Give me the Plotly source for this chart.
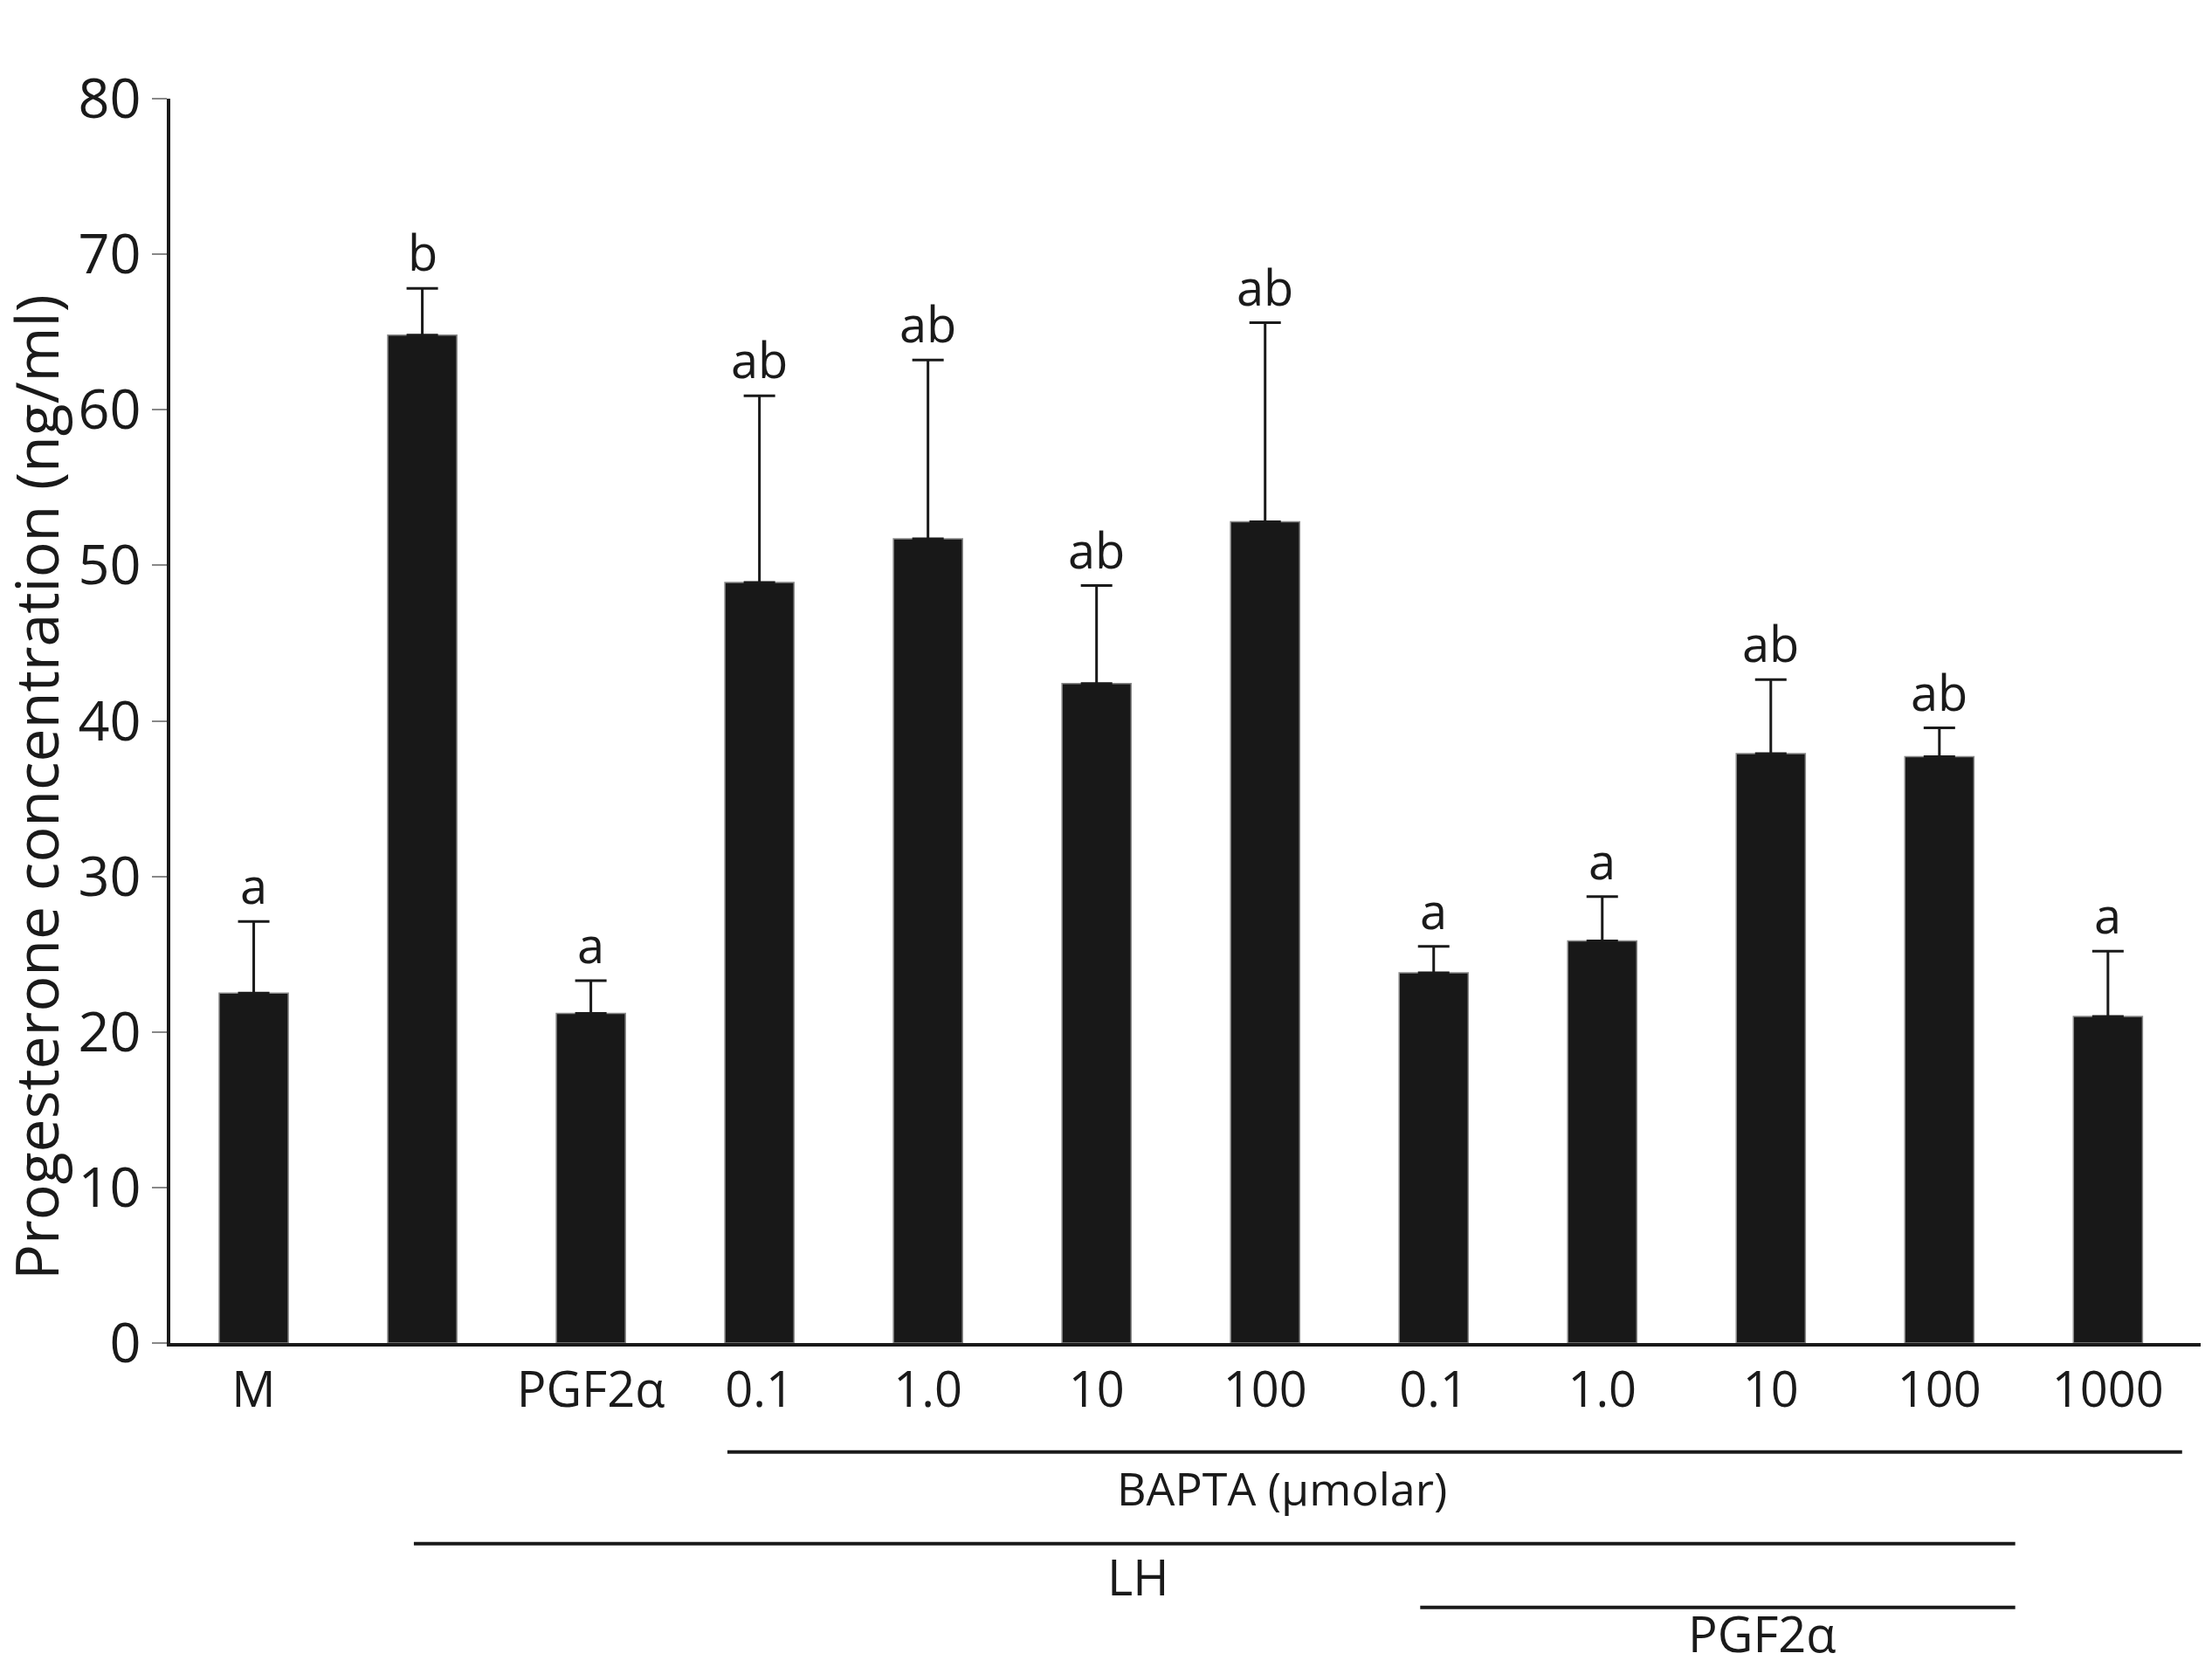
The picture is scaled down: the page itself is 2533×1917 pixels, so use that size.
import plotly.graph_objects as go

# Treatments along the x axis (the LH-only bar has no label of its own)
tick_labels = ["M", "", "PGF2α", "0.1", "1.0", "10", "100", "0.1", "1.0", "10", "100", "1000"]

# Mean progesterone (ng/ml) and upper SEM for each bar
means = [22.5, 64.8, 21.2, 48.9, 51.7, 42.4, 52.8, 23.8, 25.85, 37.9, 37.7, 21.0]
sem = [4.6, 3.0, 2.1, 12.0, 11.5, 6.3, 12.8, 1.7, 2.85, 4.75, 1.85, 4.2]

# Significance letters above the bars
letters = ["a", "b", "a", "ab", "ab", "ab", "ab", "a", "a", "ab", "ab", "a"]

# Treatment groups drawn as lines under the axis: (label, first bar, last bar)
groups = [
    ("BAPTA (μmolar)", 2.81, 11.44),
    ("LH", 0.95, 10.45),
    ("PGF2α", 6.92, 10.45),
]

FONT = "Open Sans, Noto Sans, sans-serif"
INK = "#1a1a1a"

xs = list(range(len(means)))

fig = go.Figure()

fig.add_trace(
    go.Bar(
        x=xs,
        y=means,
        width=0.41,
        marker=dict(color="#181818", line=dict(color="#8a8a8a", width=1.5)),
        error_y=dict(
            type="data",
            array=sem,
            arrayminus=[0] * len(sem),
            symmetric=False,
            color=INK,
            thickness=3,
            width=18,
        ),
        showlegend=False,
    )
)

# letters sit just above each error bar
for x, m, e, txt in zip(xs, means, sem, letters):
    fig.add_annotation(
        x=x,
        y=m + e,
        text=txt,
        showarrow=False,
        yanchor="bottom",
        yshift=2,
        font=dict(family=FONT, size=56, color=INK),
    )

# group lines and their labels below the axis
line_y = {"BAPTA (μmolar)": -0.0875, "LH": -0.1612, "PGF2α": -0.2124}
text_y = {"BAPTA (μmolar)": -0.1158, "LH": -0.1874, "PGF2α": -0.233}
text_x = {"BAPTA (μmolar)": 6.10, "LH": 5.25, "PGF2α": 8.95}
text_size = {"BAPTA (μmolar)": 52, "LH": 56, "PGF2α": 56}

for name, x0, x1 in groups:
    fig.add_shape(
        type="line",
        xref="x",
        yref="paper",
        x0=x0,
        x1=x1,
        y0=line_y[name],
        y1=line_y[name],
        line=dict(color=INK, width=4),
    )
    fig.add_annotation(
        x=text_x[name],
        y=text_y[name],
        xref="x",
        yref="paper",
        text=name,
        showarrow=False,
        yanchor="middle",
        font=dict(family=FONT, size=text_size[name], color=INK),
    )

# y axis title as a rotated annotation so it can be placed exactly
fig.add_annotation(
    x=-0.0667,
    y=0.447,
    xref="paper",
    yref="paper",
    text="Progesterone concentration (ng/ml)",
    textangle=-90,
    showarrow=False,
    xanchor="center",
    yanchor="middle",
    font=dict(family=FONT, size=68, color=INK),
)

fig.update_xaxes(
    range=[-0.495, 11.55],
    tickvals=xs,
    ticktext=tick_labels,
    ticks="",
    showline=True,
    linecolor=INK,
    linewidth=3.5,
    showgrid=False,
    zeroline=False,
    tickfont=dict(family=FONT, size=56, color=INK),
    ticklabelstandoff=2,
)

fig.update_yaxes(
    range=[0, 80],
    tickvals=[0, 10, 20, 30, 40, 50, 60, 70, 80],
    ticks="outside",
    ticklen=17,
    tickwidth=2,
    tickcolor="#888888",
    showline=True,
    linecolor=INK,
    linewidth=3.5,
    showgrid=False,
    zeroline=False,
    tickfont=dict(family=FONT, size=63, color=INK),
)

# the page adds an 8px body margin, so the figure is a little smaller
fig.update_layout(
    width=2517,
    height=1901,
    margin=dict(l=187, r=5, t=105, b=371),
    paper_bgcolor="white",
    plot_bgcolor="white",
    font=dict(family=FONT, color=INK),
)

fig.write_html("out.html")
